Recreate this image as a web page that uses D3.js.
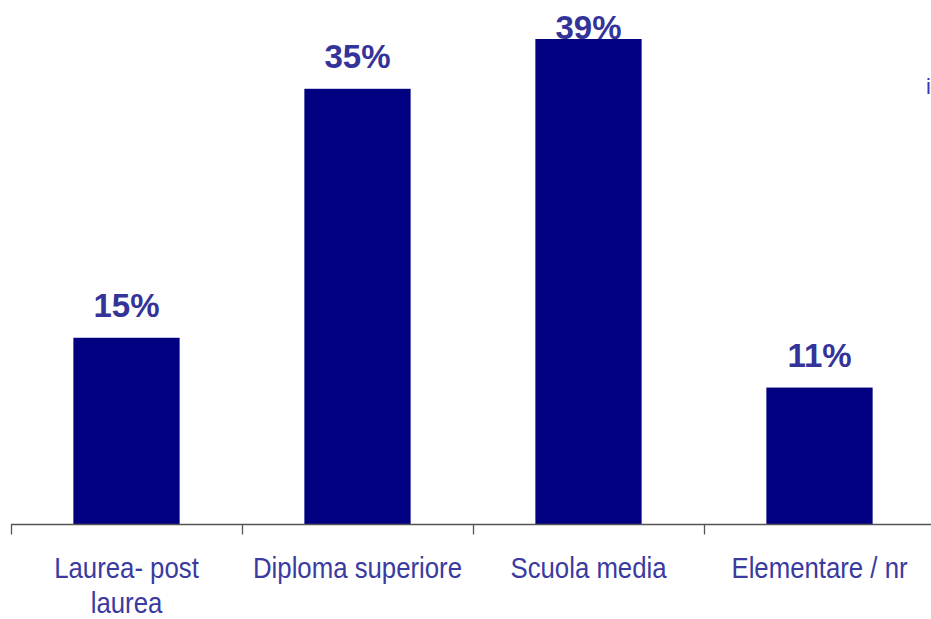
<!DOCTYPE html>
<html>
<head>
<meta charset="utf-8">
<script src="https://cdn.jsdelivr.net/npm/d3@7"></script>
<style>
html,body{margin:0;padding:0;background:#fff;}
svg{display:block;}
</style>
</head>
<body>
<svg id="chart" width="931" height="619"></svg>
<script>
const categories = [["Laurea- post","laurea"],["Diploma superiore"],["Scuola media"],["Elementare / nr"]];
const values = [15, 35, 39, 11];
const valueLabels = ["15%","35%","39%","11%"];

const svg = d3.select("#chart");
const baseY = 524.5;
const x = d3.scaleBand().domain(d3.range(categories.length)).range([11, 935]).paddingInner(0.54).paddingOuter(0.27);
const y = d3.scaleLinear().domain([0, 39]).range([baseY, 39]);

// value labels (drawn first so bars overlap where clipped)
svg.selectAll("text.val").data(values).enter().append("text")
  .attr("class","val")
  .attr("x",(d,i)=>x(i)+x.bandwidth()/2)
  .attr("y",d=>Math.max(y(d)-21, 39))
  .attr("text-anchor","middle")
  .attr("font-family","Liberation Sans, Arial, sans-serif")
  .attr("font-weight","bold")
  .attr("font-size","33px")
  .attr("fill","#333399")
  .text((d,i)=>valueLabels[i]);

svg.selectAll("rect.bar").data(values).enter().append("rect")
  .attr("class","bar")
  .attr("x",(d,i)=>x(i))
  .attr("width",x.bandwidth())
  .attr("y",d=>y(d))
  .attr("height",d=>baseY-y(d))
  .attr("fill","#000080");

// axis
const tickXs = d3.range(categories.length+1).map(i=>11 + i*x.step());
svg.append("line").attr("x1",11).attr("x2",935).attr("y1",baseY).attr("y2",baseY)
  .attr("stroke","#555").attr("stroke-width",1.3);
svg.selectAll("line.tick").data(tickXs).enter().append("line")
  .attr("x1",d=>d+0.5).attr("x2",d=>d+0.5).attr("y1",baseY).attr("y2",baseY+10)
  .attr("stroke","#555").attr("stroke-width",1.3);

// category labels
const g = svg.selectAll("g.cat").data(categories).enter().append("g")
  .attr("transform",(d,i)=>`translate(${x(i)+x.bandwidth()/2},578) scale(0.92,1.04)`);
g.append("text")
  .attr("text-anchor","middle")
  .attr("font-family","Liberation Sans, Arial, sans-serif")
  .attr("font-size","28px")
  .attr("fill","#3a3aa0")
  .selectAll("tspan").data(d=>d).enter().append("tspan")
  .attr("x",0).attr("y",(d,i)=>i*34)
  .text(d=>d);

// stray mark at right
svg.append("text").attr("x",926).attr("y",94)
  .attr("font-family","Liberation Sans, Arial, sans-serif")
  .attr("font-size","22px").attr("fill","#3a3ab0").text("i");
</script>
</body>
</html>
